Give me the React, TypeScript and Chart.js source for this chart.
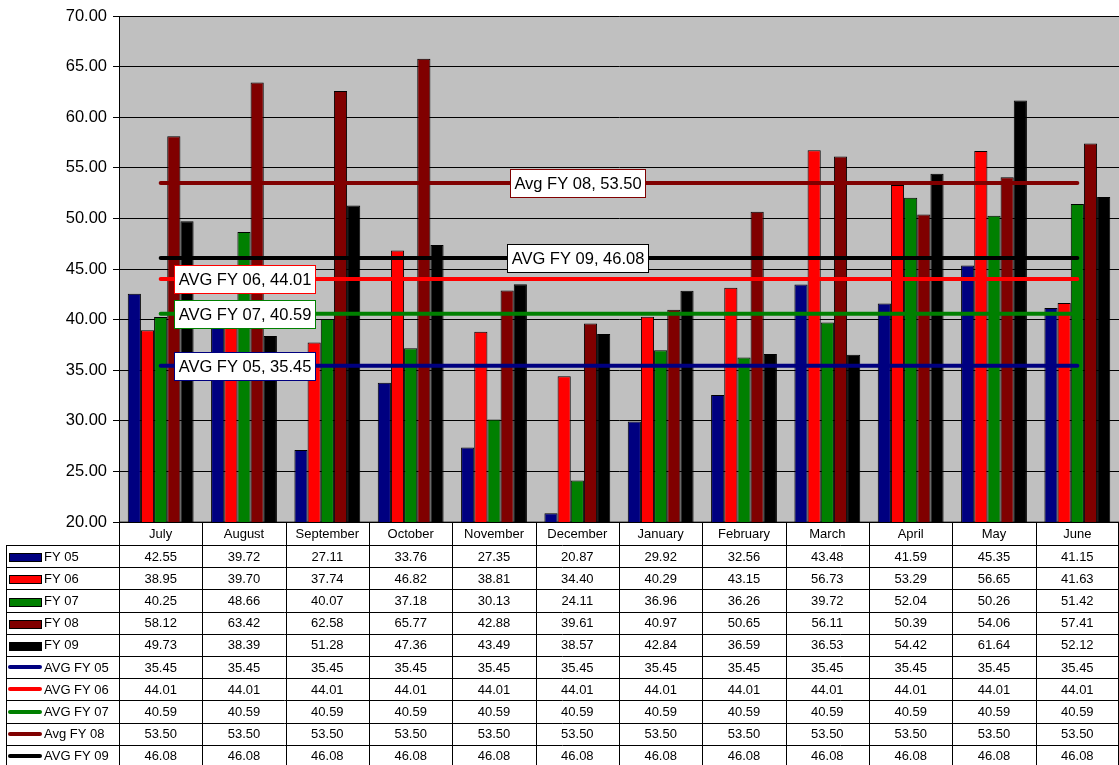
import React, { useEffect, useRef } from "react";
import { Chart, registerables } from "chart.js";

Chart.register(...registerables);

const categories = ["July", "August", "September", "October", "November", "December", "January", "February", "March", "April", "May", "June"];

const fy05 = [42.55, 39.72, 27.11, 33.76, 27.35, 20.87, 29.92, 32.56, 43.48, 41.59, 45.35, 41.15];
const fy06 = [38.95, 39.70, 37.74, 46.82, 38.81, 34.40, 40.29, 43.15, 56.73, 53.29, 56.65, 41.63];
const fy07 = [40.25, 48.66, 40.07, 37.18, 30.13, 24.11, 36.96, 36.26, 39.72, 52.04, 50.26, 51.42];
const fy08 = [58.12, 63.42, 62.58, 65.77, 42.88, 39.61, 40.97, 50.65, 56.11, 50.39, 54.06, 57.41];
const fy09 = [49.73, 38.39, 51.28, 47.36, 43.49, 38.57, 42.84, 36.59, 36.53, 54.42, 61.64, 52.12];

const avgFy05 = [35.45, 35.45, 35.45, 35.45, 35.45, 35.45, 35.45, 35.45, 35.45, 35.45, 35.45, 35.45];
const avgFy06 = [44.01, 44.01, 44.01, 44.01, 44.01, 44.01, 44.01, 44.01, 44.01, 44.01, 44.01, 44.01];
const avgFy07 = [40.59, 40.59, 40.59, 40.59, 40.59, 40.59, 40.59, 40.59, 40.59, 40.59, 40.59, 40.59];
const avgFy08 = [53.50, 53.50, 53.50, 53.50, 53.50, 53.50, 53.50, 53.50, 53.50, 53.50, 53.50, 53.50];
const avgFy09 = [46.08, 46.08, 46.08, 46.08, 46.08, 46.08, 46.08, 46.08, 46.08, 46.08, 46.08, 46.08];

const barNames = ["FY 05", "FY 06", "FY 07", "FY 08", "FY 09"];
const avgNames = ["AVG FY 05", "AVG FY 06", "AVG FY 07", "Avg FY 08", "AVG FY 09"];
const seriesColors = ["#000080", "#FF0000", "#008000", "#800000", "#000000"];

const yMin = 20;
const yMax = 70;
const yStep = 5;

const FONT = '"Liberation Sans", Arial, Helvetica, sans-serif';

type Row = { name: string; values: number[]; color: string; kind: "bar" | "line" };

const barSeries: Row[] = [fy05, fy06, fy07, fy08, fy09].map((v, i) => ({
  name: barNames[i],
  values: v,
  color: seriesColors[i],
  kind: "bar",
}));
const avgSeries: Row[] = [avgFy05, avgFy06, avgFy07, avgFy08, avgFy09].map((v, i) => ({
  name: avgNames[i],
  values: v,
  color: seriesColors[i],
  kind: "line",
}));
const tableRows: Row[] = [...barSeries, ...avgSeries];

// category index at which each average label is centred
const avgLabelAnchor = [1, 1, 1, 5, 5];

const plotBgPlugin = {
  id: "plotBg",
  beforeDraw(chart: any) {
    const { ctx, chartArea: a } = chart;
    ctx.save();
    ctx.fillStyle = "#C0C0C0";
    ctx.fillRect(a.left, a.top, a.right - a.left, a.bottom - a.top);
    ctx.strokeStyle = "#808080";
    ctx.lineWidth = 1;
    ctx.strokeRect(a.left + 0.5, a.top + 0.5, a.right - a.left, a.bottom - a.top - 1);
    ctx.restore();
  },
};

const avgLabelPlugin = {
  id: "avgLabels",
  afterDatasetsDraw(chart: any) {
    const { ctx } = chart;
    const x = chart.scales.x;
    const y = chart.scales.y;
    ctx.save();
    ctx.font = `16.5px ${FONT}`;
    ctx.textBaseline = "middle";
    ctx.textAlign = "center";
    avgSeries.forEach((s, i) => {
      const idx = avgLabelAnchor[i];
      const v = s.values[idx];
      const cx = x.getPixelForValue(idx);
      const cy = y.getPixelForValue(v);
      const text = `${s.name}, ${v.toFixed(2)}`;
      const w = Math.round(ctx.measureText(text).width + 8);
      const h = 28;
      const bx = Math.round(cx - w / 2) + 0.5;
      const by = Math.round(cy - h / 2) + 0.5;
      ctx.fillStyle = "#FFFFFF";
      ctx.fillRect(bx, by, w, h);
      ctx.strokeStyle = s.color;
      ctx.lineWidth = 1;
      ctx.strokeRect(bx, by, w, h);
      ctx.fillStyle = "#000000";
      ctx.fillText(text, bx + w / 2, by + h / 2 + 1);
    });
    ctx.restore();
  },
};

const dataTablePlugin = {
  id: "dataTable",
  afterDraw(chart: any) {
    const { ctx, chartArea: a, width } = chart;
    const x = chart.scales.x;
    const n = categories.length;
    const colW = (a.right - a.left) / n;
    const top = a.bottom;
    const headH = 23;
    const rowH = 22.2;
    const legendLeft = 6;
    const rowsTop = top + headH;
    const bottom = rowsTop + rowH * tableRows.length;

    ctx.save();
    ctx.strokeStyle = "#000000";
    ctx.lineWidth = 1;
    ctx.beginPath();
    for (let i = 0; i <= n; i++) {
      const px = Math.min(Math.round(x.getPixelForValue(i) - colW / 2) + 0.5, width - 0.5);
      ctx.moveTo(px, top);
      ctx.lineTo(px, bottom);
    }
    ctx.moveTo(legendLeft + 0.5, rowsTop);
    ctx.lineTo(legendLeft + 0.5, bottom);
    for (let r = 0; r <= tableRows.length; r++) {
      const py = Math.round(rowsTop + rowH * r) + 0.5;
      ctx.moveTo(legendLeft, py);
      ctx.lineTo(a.right, py);
    }
    ctx.stroke();

    ctx.fillStyle = "#000000";
    ctx.font = `13px ${FONT}`;
    ctx.textBaseline = "middle";
    ctx.textAlign = "center";
    categories.forEach((c, i) => {
      ctx.fillText(c, x.getPixelForValue(i), top + headH / 2 + 1);
    });

    tableRows.forEach((row, r) => {
      const cy = rowsTop + rowH * r + rowH / 2 + 1;
      // legend key
      if (row.kind === "bar") {
        ctx.fillStyle = row.color;
        ctx.fillRect(9.5, Math.round(cy - 4) + 0.5, 32, 8);
        ctx.strokeStyle = "#000000";
        ctx.lineWidth = 1;
        ctx.strokeRect(9.5, Math.round(cy - 4) + 0.5, 32, 8);
      } else {
        ctx.strokeStyle = row.color;
        ctx.lineWidth = 4;
        ctx.lineCap = "round";
        ctx.beginPath();
        ctx.moveTo(10, Math.round(cy - 1));
        ctx.lineTo(40, Math.round(cy - 1));
        ctx.stroke();
      }
      ctx.fillStyle = "#000000";
      ctx.textAlign = "left";
      ctx.fillText(row.name, 44, cy);
      ctx.textAlign = "center";
      row.values.forEach((v, i) => {
        ctx.fillText(v.toFixed(2), x.getPixelForValue(i), cy);
      });
    });
    ctx.restore();
  },
};

export default function App() {
  const canvasRef = useRef<HTMLCanvasElement | null>(null);

  useEffect(() => {
    const canvas = canvasRef.current;
    if (!canvas) return;
    const datasets: any[] = [
      ...avgSeries.map((s) => ({
        type: "line",
        label: s.name,
        data: s.values,
        borderColor: s.color,
        backgroundColor: s.color,
        borderWidth: 4,
        borderCapStyle: "round",
        pointRadius: 0,
        fill: false,
        order: 0,
      })),
      ...barSeries.map((s) => ({
        type: "bar",
        label: s.name,
        data: s.values,
        backgroundColor: s.color,
        borderColor: "#000000",
        borderWidth: 1,
        barPercentage: 1,
        categoryPercentage: 0.79,
        order: 1,
      })),
    ];

    const chart = new Chart(canvas, {
      type: "bar",
      data: { labels: categories, datasets },
      options: {
        responsive: false,
        animation: false,
        devicePixelRatio: 1,
        layout: { padding: { top: 16, bottom: 243, left: 0, right: 0 } },
        plugins: {
          legend: { display: false },
          tooltip: { enabled: false },
        },
        scales: {
          x: {
            display: false,
            offset: true,
          },
          y: {
            min: yMin,
            max: yMax,
            afterFit(scale: any) {
              scale.width = 119;
            },
            ticks: {
              stepSize: yStep,
              color: "#000000",
              font: { family: FONT, size: 16.5 },
              padding: 6,
              callback: (v: any) => Number(v).toFixed(2),
            },
            grid: {
              color: "#000000",
              lineWidth: 1,
              drawTicks: true,
              tickLength: 6,
              tickColor: "#000000",
            },
            border: { display: true, color: "#000000", width: 1 },
          },
        },
      } as any,
      plugins: [plotBgPlugin, avgLabelPlugin, dataTablePlugin],
    });
    return () => chart.destroy();
  }, []);

  return (
    <div style={{ position: "absolute", left: 0, top: 0, width: 1119, height: 765, background: "#FFFFFF" }}>
      <canvas ref={canvasRef} width={1119} height={765} style={{ display: "block" }} />
    </div>
  );
}
